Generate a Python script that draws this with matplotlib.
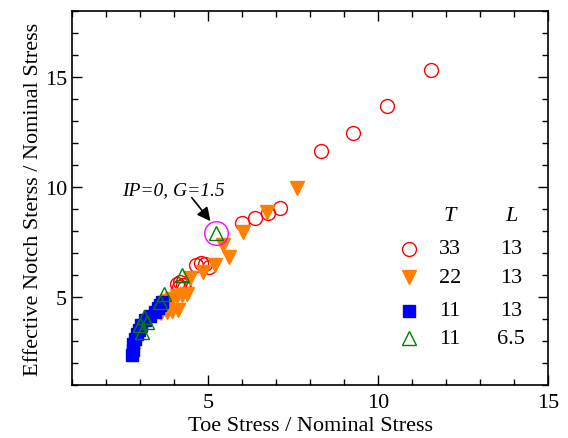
import matplotlib
matplotlib.use("Agg")
import matplotlib.pyplot as plt
from matplotlib.ticker import MultipleLocator

plt.rcParams['font.family'] = ['Liberation Serif', 'DejaVu Serif']

# T=33, L=13 (open red circles)
t33_x = [11.55, 10.27, 9.26, 8.33, 7.10, 6.75, 6.39, 6.00,
         4.64, 4.79, 4.92, 5.04, 4.08, 4.18, 4.26, 4.13, 4.28]
t33_y = [15.33, 13.68, 12.47, 11.62, 9.03, 8.80, 8.60, 8.38,
         6.46, 6.56, 6.49, 6.37, 5.58, 5.66, 5.55, 5.44, 5.43]

# T=22, L=13 (filled orange down triangles)
t22_x = [7.61, 6.73, 6.02, 5.45, 5.60, 5.21, 4.84, 4.47, 4.37, 4.22,
         4.08, 3.93, 3.80, 4.10, 3.95, 3.80, 3.62]
t22_y = [9.95, 8.86, 7.95, 7.38, 6.82, 6.44, 6.14, 5.85, 5.12, 5.10,
         5.05, 4.90, 4.80, 4.40, 4.37, 4.32, 4.27]

# T=11, L=13 (filled blue squares)
t11_x = [2.76, 2.78, 2.80, 2.84, 2.90, 2.96, 3.04, 3.15, 3.30, 3.44, 3.52, 3.58, 3.64]
t11_y = [2.35, 2.60, 2.85, 3.08, 3.30, 3.52, 3.74, 3.95, 4.15, 4.33, 4.50, 4.64, 4.78]

# T=11, L=6.5 (open green up triangles)
t11s_x = [5.23, 4.23, 3.69, 3.59, 3.20, 3.10, 3.00, 3.05]
t11s_y = [7.91, 5.98, 5.15, 4.77, 3.86, 4.10, 3.71, 3.41]

legend_T = ["33", "22", "11", "11"]
legend_L = ["13", "13", "13", "6.5"]

fig = plt.figure(figsize=(5.68, 4.39), dpi=100)
ax = fig.add_axes([0.127, 0.121, 0.838, 0.851])

ms = 10
ax.plot(t33_x, t33_y, 'o', ms=ms, mfc='none', mec='red', mew=1.0, ls='none')
ax.plot(t22_x, t22_y, 'v', ms=ms, mfc='#ff7f00', mec='#ff7f00', ls='none')
ax.plot(t11_x, t11_y, 's', ms=9, mfc='blue', mec='blue', ls='none')
ax.plot(t11s_x, t11s_y, '^', ms=ms, mfc='none', mec='green', mew=1.0, ls='none')

# highlighted point with its note
ax.plot([t11s_x[0]], [t11s_y[0]], 'o', ms=17, mfc='none', mec='magenta', mew=1.0)
ax.text(3.97, 9.9, 'IP=0, G=1.5', ha='center', va='center',
        fontsize=14, fontstyle='italic')
ax.annotate('', xy=(5.07, 8.45), xytext=(4.52, 9.52),
            arrowprops=dict(arrowstyle='-|>', color='black', lw=1.2,
                            mutation_scale=20, shrinkA=0, shrinkB=0))

# custom legend table
ax.text(0.794, 0.453, 'T', transform=ax.transAxes, ha='center', va='center',
        fontsize=16, fontstyle='italic')
ax.text(0.922, 0.453, 'L', transform=ax.transAxes, ha='center', va='center',
        fontsize=16, fontstyle='italic')
rows_y = [0.364, 0.288, 0.199, 0.125]
styles = [dict(marker='o', mfc='none', mec='red', mew=1.0, ms=ms),
          dict(marker='v', mfc='#ff7f00', mec='#ff7f00', ms=ms),
          dict(marker='s', mfc='blue', mec='blue', ms=9),
          dict(marker='^', mfc='none', mec='green', mew=1.0, ms=ms)]
for yy, st, tv, lv in zip(rows_y, styles, legend_T, legend_L):
    ax.plot([0.708], [yy], transform=ax.transAxes, ls='none', clip_on=False, **st)
    ax.text(0.794, yy, tv, transform=ax.transAxes, ha='center', va='center', fontsize=16)
    ax.text(0.922, yy, lv, transform=ax.transAxes, ha='center', va='center', fontsize=16)

ax.set_xlim(1, 15)
ax.set_ylim(1, 18)
ax.xaxis.set_major_locator(MultipleLocator(5))
ax.xaxis.set_minor_locator(MultipleLocator(1))
ax.yaxis.set_major_locator(MultipleLocator(5))
ax.yaxis.set_minor_locator(MultipleLocator(1))
ax.tick_params(which='both', direction='in', top=True, right=True, labelsize=16, width=1.0)
ax.tick_params(axis='x', which='both', pad=6)
ax.tick_params(which='major', length=7)
ax.tick_params(which='minor', length=4)
for sp in ax.spines.values():
    sp.set_linewidth(1.2)

ax.set_xlabel('Toe Stress / Nominal Stress', fontsize=16, labelpad=3)
ax.set_ylabel('Effective Notch Sterss / Nominal Stress', fontsize=16)
ax.yaxis.set_label_coords(-0.062, 0.5)

fig.savefig('out.png', dpi=100)
